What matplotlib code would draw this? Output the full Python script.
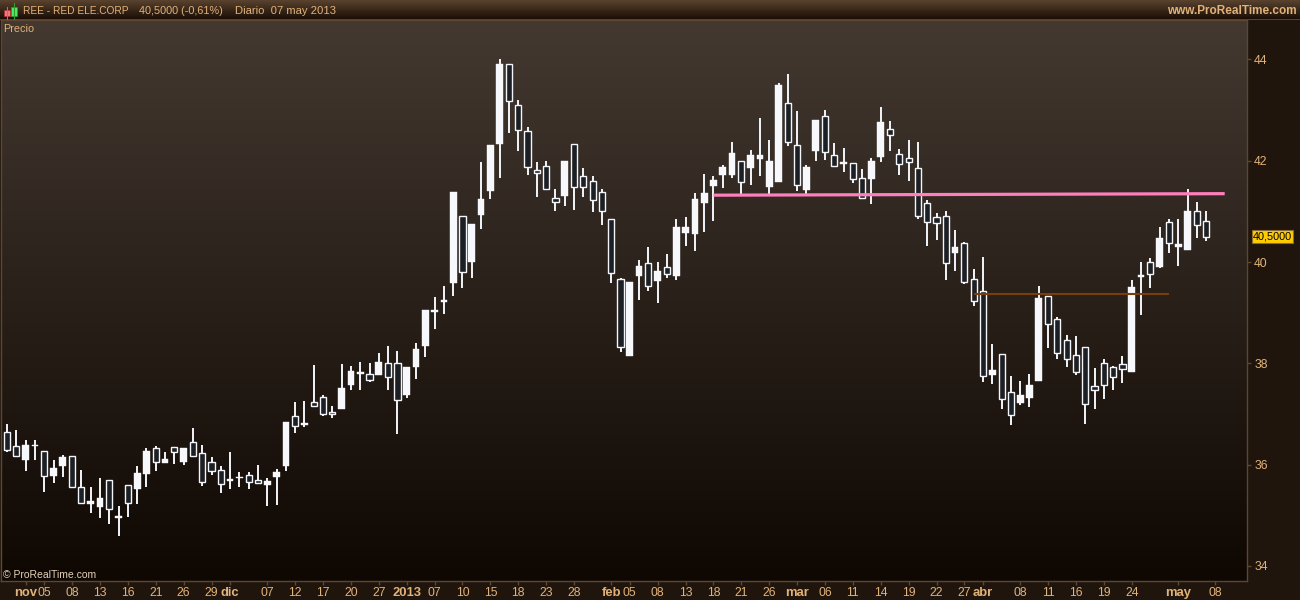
import numpy as np
import matplotlib
matplotlib.use("Agg")
import matplotlib.pyplot as plt
from matplotlib.patches import Rectangle

# daily candles, nov 2012 - may 2013
highs = [36.80, 36.69, 36.49, 36.49, 36.27, 36.09, 36.19, 36.17, 35.90, 35.56,
         35.74, 35.70, 35.18, 35.59, 35.98, 36.33, 36.37, 36.25, 36.35, 36.33,
         36.73, 36.39, 36.15, 35.98, 36.25, 35.86, 35.86, 36.00, 35.74, 35.92,
         36.84, 37.24, 37.26, 37.97, 37.38, 37.16, 37.99, 37.95, 38.03, 38.01,
         38.21, 38.34, 38.25, 37.93, 38.40, 39.05, 39.31, 39.53, 41.38, 40.91,
         40.75, 41.98, 42.31, 44.01, 43.91, 43.20, 42.67, 41.98, 42.00, 41.44,
         42.00, 42.33, 41.86, 41.70, 41.44, 40.85, 39.69, 39.61, 40.04, 40.30,
         40.00, 40.16, 40.85, 40.89, 41.36, 41.74, 41.70, 41.92, 42.37, 42.00,
         42.21, 42.84, 42.41, 43.54, 43.71, 42.98, 41.92, 42.81, 43.00, 42.35,
         42.25, 41.95, 41.84, 42.06, 43.06, 42.79, 42.23, 42.41, 42.37, 41.23,
         40.97, 41.01, 40.63, 40.40, 39.86, 40.10, 38.38, 38.19, 37.75, 37.65,
         37.79, 39.53, 39.33, 38.92, 38.56, 38.54, 38.32, 37.91, 38.09, 37.95,
         38.15, 39.65, 40.00, 40.08, 40.69, 40.85, 40.85, 41.44, 41.19, 41.01]
lows = [36.24, 36.14, 35.88, 36.08, 35.45, 35.63, 35.76, 35.53, 35.23, 35.05,
        34.95, 34.82, 34.58, 34.97, 35.23, 35.55, 35.88, 36.03, 36.02, 36.00,
        36.14, 35.58, 35.80, 35.43, 35.51, 35.56, 35.51, 35.61, 35.19, 35.21,
        35.88, 36.63, 36.74, 37.15, 36.96, 36.92, 37.10, 37.48, 37.48, 37.63,
        37.77, 37.48, 36.61, 37.32, 37.69, 38.13, 38.68, 38.98, 39.33, 39.49,
        39.69, 40.65, 41.25, 41.66, 42.55, 42.19, 41.72, 41.29, 41.42, 41.01,
        41.11, 41.03, 41.29, 40.99, 40.73, 39.59, 38.23, 38.15, 39.25, 39.43,
        39.19, 39.69, 39.65, 40.32, 40.22, 40.59, 40.81, 41.46, 41.66, 41.33,
        41.52, 41.70, 41.35, 41.58, 42.29, 41.40, 41.35, 42.00, 42.02, 41.90,
        41.78, 41.56, 41.27, 41.15, 41.98, 42.19, 41.72, 41.60, 40.85, 40.32,
        40.44, 39.65, 39.82, 39.57, 39.13, 37.63, 37.59, 37.10, 36.78, 37.18,
        37.14, 37.65, 38.30, 38.09, 37.93, 37.77, 36.80, 37.10, 37.30, 37.48,
        37.61, 37.83, 38.96, 39.49, 39.88, 40.18, 39.92, 40.24, 40.47, 40.42]
# hollow candles fall: open above close; filled candles rise
opens = [36.64, 36.36, 36.08, 36.36, 36.27, 35.78, 35.98, 36.17, 35.55, 35.23,
         35.17, 35.69, 34.95, 35.59, 35.51, 35.82, 36.32, 36.04, 36.34, 36.06,
         36.44, 36.23, 36.05, 35.89, 35.68, 35.73, 35.79, 35.70, 35.60, 35.76,
         35.98, 36.96, 36.79, 37.23, 37.33, 37.04, 37.10, 37.57, 37.79, 37.79,
         37.77, 38.00, 38.00, 37.38, 37.92, 38.34, 39.02, 39.22, 39.59, 40.91,
         40.00, 40.93, 41.40, 42.33, 43.91, 43.10, 42.58, 41.81, 41.89, 41.26,
         41.31, 42.33, 41.69, 41.60, 41.38, 40.85, 39.66, 38.15, 39.72, 39.98,
         39.63, 39.90, 39.72, 40.57, 40.56, 41.17, 41.50, 41.72, 41.72, 41.99,
         41.86, 42.04, 41.48, 41.58, 43.14, 42.31, 41.42, 42.19, 42.88, 42.11,
         41.94, 41.95, 41.66, 41.64, 42.08, 42.62, 42.13, 42.05, 41.85, 41.16,
         40.89, 40.90, 40.18, 40.37, 39.66, 39.42, 37.77, 38.18, 37.43, 37.22,
         37.32, 37.65, 39.33, 38.87, 38.46, 38.16, 38.32, 37.55, 38.00, 37.92,
         37.98, 37.83, 39.71, 40.00, 39.90, 40.80, 40.30, 40.24, 41.00, 40.81]
closes = [36.28, 36.16, 36.38, 36.39, 35.77, 35.93, 36.15, 35.55, 35.24, 35.28,
          35.34, 35.12, 34.99, 35.24, 35.83, 36.27, 36.05, 36.11, 36.24, 36.32,
          36.16, 35.66, 35.88, 35.61, 35.72, 35.76, 35.65, 35.63, 35.68, 35.86,
          36.84, 36.77, 36.82, 37.15, 36.99, 36.99, 37.52, 37.85, 37.83, 37.66,
          38.03, 37.72, 37.28, 37.93, 38.28, 39.05, 39.05, 39.25, 41.38, 39.81,
          40.75, 41.25, 42.31, 43.91, 43.19, 42.60, 41.88, 41.75, 41.44, 41.19,
          42.00, 41.49, 41.49, 41.23, 41.00, 39.79, 38.33, 39.61, 39.92, 39.53,
          39.83, 39.77, 40.69, 40.69, 41.25, 41.36, 41.62, 41.88, 42.15, 41.59,
          42.11, 42.11, 42.00, 43.50, 42.37, 41.52, 41.88, 42.81, 42.17, 41.90,
          41.98, 41.64, 41.27, 42.00, 42.77, 42.50, 41.94, 41.98, 40.91, 40.80,
          40.78, 39.99, 40.30, 39.61, 39.23, 37.74, 37.87, 37.30, 36.97, 37.37,
          37.57, 39.29, 38.78, 38.21, 38.09, 37.82, 37.19, 37.48, 37.58, 37.72,
          37.88, 39.51, 39.75, 39.77, 40.47, 40.38, 40.36, 41.01, 40.74, 40.50]

# tick positions are bar numbers
date_pos = [2, 4, 7, 10, 13, 16, 19, 22, 24, 28, 31, 34, 37, 40, 43, 46, 49,
            52, 55, 58, 61, 65, 67, 70, 73, 76, 79, 82, 85, 88, 91, 94, 97,
            100, 103, 105, 109, 112, 115, 118, 121, 126, 130]
date_labels = ["nov", "05", "08", "13", "16", "21", "26", "29", "dic", "07",
               "12", "17", "20", "27", "2013", "07", "10", "15", "18", "23",
               "28", "feb", "05", "08", "13", "18", "21", "26", "mar", "06",
               "11", "14", "19", "22", "27", "abr", "08", "11", "16", "19",
               "24", "may", "08"]
bold_labels = ["nov", "dic", "2013", "feb", "mar", "abr", "may"]
price_ticks = [34, 36, 38, 40, 42, 44]

pink_x = [76, 131]
pink_y = [41.32, 41.35]
brown_x = [104, 125]
brown_y = [39.37, 39.37]
last_price = 40.50

plt.rcParams["font.family"] = ["Liberation Sans", "DejaVu Sans"]

LABEL = "#e2b27a"
EDGE = "#5e4630"
PANEL = "#1f150d"

fig = plt.figure(figsize=(13, 6), dpi=100, facecolor=PANEL)
W, H = 1300.0, 600.0

# plot area in pixels: x 1-1247, y 20-581
ax = fig.add_axes([1 / W, 19 / H, 1246 / W, 561 / H], facecolor="black")

# background gradient
grad = np.linspace(0, 1, 256).reshape(-1, 1, 1)
top_col = np.array([67, 57, 49]) / 255
bot_col = np.array([15, 7, 2]) / 255
ax.imshow(top_col * (1 - grad) + bot_col * grad, aspect="auto",
          extent=[0, 1, 0, 1], transform=ax.transAxes, zorder=0)
ax.set_xlim(-0.65, 133.4)
ax.set_ylim(33.70, 44.78)

x = np.arange(len(closes))
opens_a = np.array(opens)
closes_a = np.array(closes)
rising = closes_a >= opens_a
bottoms = np.minimum(opens_a, closes_a)
heights = np.abs(closes_a - opens_a)

ax.vlines(x, lows, highs, color="#f2f5fa", lw=1.4, zorder=2)
ax.bar(x[rising], heights[rising], bottom=bottoms[rising], width=0.72,
       color="#f7f8fb", edgecolor="#f7f8fb", lw=0.3, zorder=3)
ax.bar(x[~rising], heights[~rising], bottom=bottoms[~rising], width=0.66,
       color="#1c1f24", edgecolor="#f2f5fa", lw=1.0, zorder=3)

ax.plot(pink_x, pink_y, color="#ff7fbc", lw=2.3, solid_capstyle="butt", zorder=4)
ax.plot(brown_x, brown_y, color="#7a3e08", lw=1.5, solid_capstyle="butt", zorder=4)

for s in ax.spines.values():
    s.set_color(EDGE)
    s.set_linewidth(1)

ax.yaxis.tick_right()
ax.set_yticks(price_ticks)
ax.set_yticklabels([str(p) for p in price_ticks])
ax.tick_params(axis="y", length=3.2, width=1, color=EDGE, labelcolor=LABEL,
               labelsize=8.8, pad=2)
ax.set_xticks(date_pos)
ax.set_xticklabels(date_labels)
ax.tick_params(axis="x", length=3.2, width=1, color=EDGE, labelcolor=LABEL,
               labelsize=8.8, pad=1.2)
for t in ax.get_xticklabels():
    if t.get_text() in bold_labels:
        t.set_fontweight("bold")
        t.set_fontsize(9.4)

# last price flag
ax.annotate("40,5000", xy=(1.0, last_price), xycoords=("axes fraction", "data"),
            xytext=(18.4, 0), textcoords="offset points", ha="center", va="center",
            fontsize=7.8, color="black", annotation_clip=False,
            bbox=dict(boxstyle="square,pad=0.12", fc="#ffcc00", ec="#8a6a30", lw=0.8))

ax.text(2 / 1247, 1 - 8.5 / 561, "Precio", transform=ax.transAxes, ha="left", va="center",
        fontsize=7.8, color=LABEL)
ax.text(2 / 1247, 6 / 561, "© ProRealTime.com", transform=ax.transAxes, ha="left",
        va="center", fontsize=7.5, color="#e3d2b8")

# header bar
hdr = fig.add_axes([0, 1 - 20 / H, 1, 20 / H])
hdr.axis("off")
hgrad = np.linspace(0, 1, 20).reshape(-1, 1, 1)
hdr.imshow(np.array([88, 66, 46]) / 255 * (1 - hgrad) + np.array([24, 12, 4]) / 255 * hgrad,
           aspect="auto", extent=[0, W, 20, 0])
hdr.set_xlim(0, W)
hdr.set_ylim(20, 0)
hdr.plot([0, W], [19.5, 19.5], color="#6a4e34", lw=1.2)
hdr.text(23, 10.5, "REE - RED ELE.CORP", fontsize=7.3, color=LABEL, va="center")
hdr.text(139, 10.5, "40,5000 (-0,61%)", fontsize=7.8, color=LABEL, va="center")
hdr.text(235, 10.5, "Diario  07 may 2013", fontsize=8.1, color=LABEL, va="center")
hdr.text(1297, 10.5, "www.ProRealTime.com", fontsize=8.5, color=LABEL, va="center",
         ha="right", fontweight="bold")

# little red and green candle logo
hdr.plot([6.5, 6.5], [7, 19], color="#e05a60", lw=0.8)
hdr.add_patch(Rectangle((3.5, 10), 6, 6, fc="#f07a80", ec="#b03030", lw=0.5))
hdr.plot([14, 14], [3, 19], color="#2ca02c", lw=0.8)
hdr.add_patch(Rectangle((11, 6.5), 6, 9, fc="#50e860", ec="#20a030", lw=0.5))

fig.savefig("out.png", dpi=100, facecolor=fig.get_facecolor())
